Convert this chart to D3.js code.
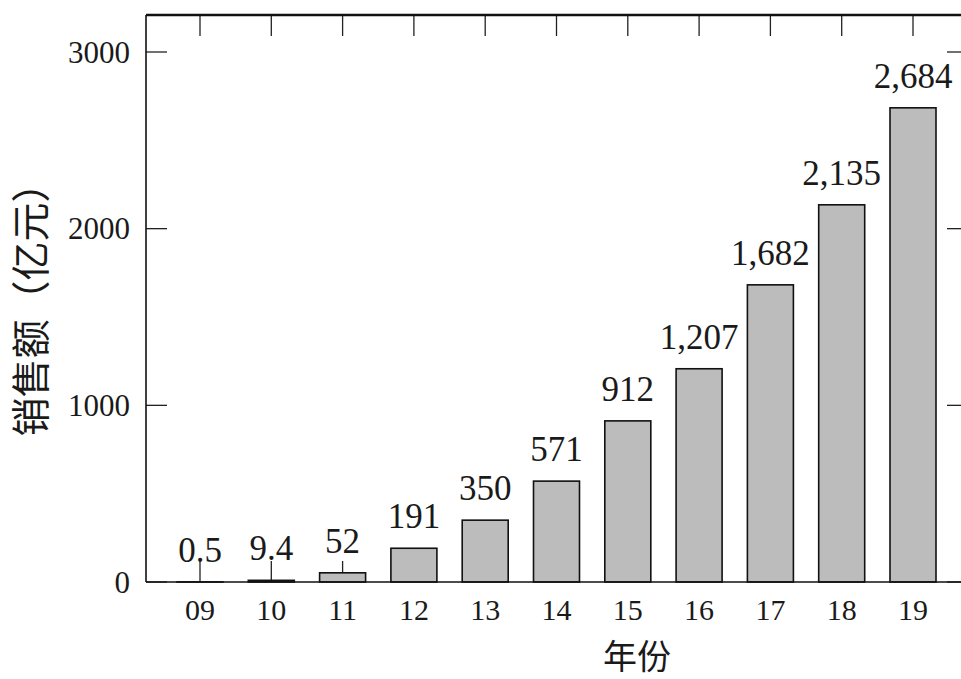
<!DOCTYPE html>
<html>
<head>
<meta charset="utf-8">
<script src="https://cdn.jsdelivr.net/npm/d3@7"></script>
<style>
  html, body { margin: 0; padding: 0; background: #fff; }
  svg { display: block; }
</style>
</head>
<body>
<svg id="chart" width="961" height="679"></svg>
<script>
// Annual sales (亿元) by year
const years = ["09", "10", "11", "12", "13", "14", "15", "16", "17", "18", "19"];
const sales = [0.5, 9.4, 52, 191, 350, 571, 912, 1207, 1682, 2135, 2684];
const yTicks = [0, 1000, 2000, 3000];

const svg = d3.select("#chart");
const plotL = 146, plotR = 968, plotT = 15, plotB = 582;
const serif = "'Liberation Serif', 'Times New Roman', serif";
const cjk = "'Noto Sans CJK SC', sans-serif";

const x = d3.scalePoint().domain(years).range([200, 913]);
const y = d3.scaleLinear().domain([0, 3000]).range([plotB, 52]);
const barW = 46;
const tickLen = 21;

// inward ticks on all four sides (drawn first so bars sit above them)
const ticks = svg.append("g").attr("stroke", "#222").attr("stroke-width", 1.3);
years.forEach(c => {
  ticks.append("line").attr("x1", x(c)).attr("x2", x(c)).attr("y1", plotB).attr("y2", plotB - tickLen);
  ticks.append("line").attr("x1", x(c)).attr("x2", x(c)).attr("y1", plotT).attr("y2", plotT + tickLen);
});
yTicks.forEach(t => {
  ticks.append("line").attr("x1", plotL).attr("x2", plotL + tickLen).attr("y1", y(t)).attr("y2", y(t));
  ticks.append("line").attr("x1", plotR).attr("x2", plotR - tickLen).attr("y1", y(t)).attr("y2", y(t));
});

const rows = years.map((c, i) => ({ c, v: sales[i] }));

// bars
svg.append("g").selectAll("rect")
  .data(rows)
  .join("rect")
  .attr("x", d => x(d.c) - barW / 2)
  .attr("width", barW)
  .attr("y", d => y(d.v))
  .attr("height", d => plotB - y(d.v))
  .attr("fill", "#bcbcbc")
  .attr("stroke", "#111")
  .attr("stroke-width", 1.6);

// frame
svg.append("line").attr("x1", plotL).attr("x2", plotR).attr("y1", plotT).attr("y2", plotT)
  .attr("stroke", "#111").attr("stroke-width", 2.6);
svg.append("line").attr("x1", plotL).attr("x2", plotL).attr("y1", plotT).attr("y2", plotB)
  .attr("stroke", "#111").attr("stroke-width", 1.6);
svg.append("line").attr("x1", plotL).attr("x2", plotR).attr("y1", plotB).attr("y2", plotB)
  .attr("stroke", "#111").attr("stroke-width", 1.6);
svg.append("line").attr("x1", plotR).attr("x2", plotR).attr("y1", plotT).attr("y2", plotB)
  .attr("stroke", "#111").attr("stroke-width", 1.6);

// value labels
const fmt = v => v >= 1000 ? d3.format(",")(v) : String(v);
svg.append("g").selectAll("text")
  .data(rows)
  .join("text")
  .attr("x", d => x(d.c))
  .attr("y", d => y(d.v) - 20)
  .attr("text-anchor", "middle")
  .style("font-family", serif)
  .style("font-size", "35px")
  .attr("fill", "#1a1a1a")
  .text(d => fmt(d.v));

// x tick labels
svg.append("g").selectAll("text")
  .data(years)
  .join("text")
  .attr("x", d => x(d))
  .attr("y", 620)
  .attr("text-anchor", "middle")
  .style("font-family", serif)
  .style("font-size", "30px")
  .attr("fill", "#1a1a1a")
  .text(d => d);

// y tick labels
svg.append("g").selectAll("text")
  .data(yTicks)
  .join("text")
  .attr("x", 130)
  .attr("y", d => y(d))
  .attr("dy", "0.34em")
  .attr("text-anchor", "end")
  .style("font-family", serif)
  .style("font-size", "31px")
  .attr("fill", "#1a1a1a")
  .text(d => d);

// axis titles
svg.append("text")
  .attr("x", 637).attr("y", 669)
  .attr("text-anchor", "middle")
  .style("font-family", cjk)
  .style("font-size", "34px")
  .attr("fill", "#1a1a1a")
  .text("年份");

svg.append("text")
  .attr("transform", "translate(45,300) rotate(-90)")
  .attr("text-anchor", "middle")
  .style("font-family", cjk)
  .style("font-size", "39px")
  .attr("fill", "#1a1a1a")
  .text("销售额（亿元）");
</script>
</body>
</html>
